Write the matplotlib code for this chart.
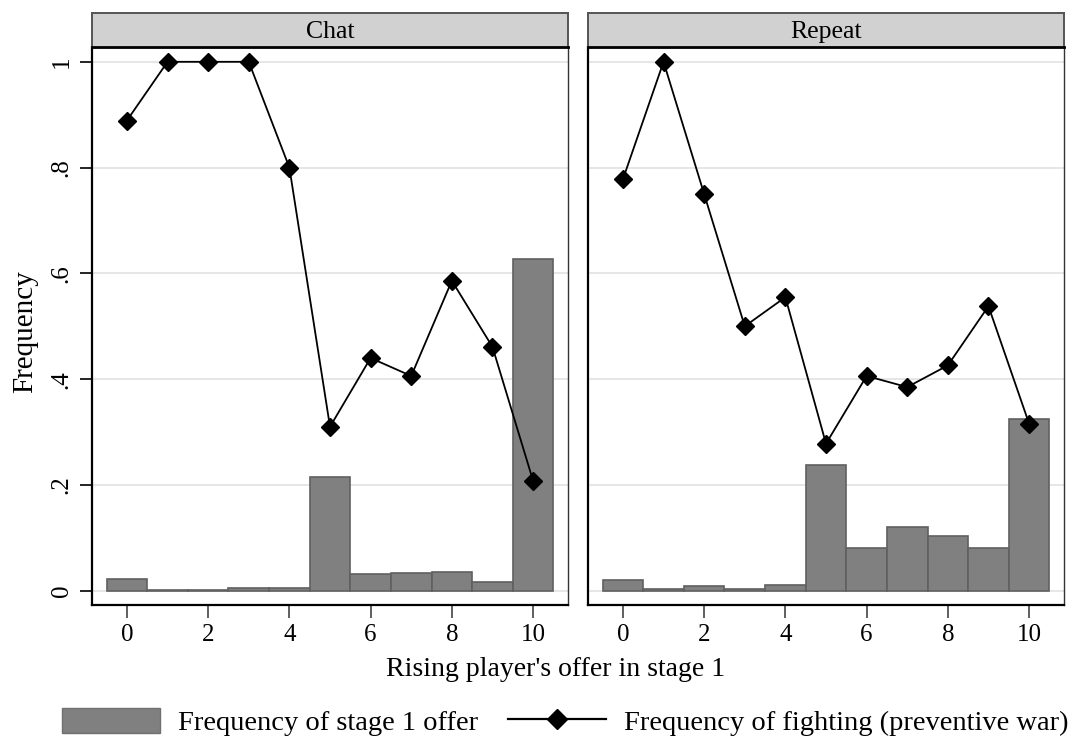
import numpy as np
import matplotlib.pyplot as plt
from matplotlib.patches import Rectangle
from matplotlib.lines import Line2D

plt.rcParams['font.family'] = ['Liberation Serif', 'DejaVu Serif']

offers = np.arange(11)
panels = ["Chat", "Repeat"]

# frequency of each stage 1 offer
chat_offer = [0.022, 0.001, 0.001, 0.006, 0.006, 0.215, 0.032, 0.034, 0.036, 0.016, 0.628]
repeat_offer = [0.021, 0.004, 0.009, 0.004, 0.010, 0.238, 0.080, 0.120, 0.103, 0.080, 0.324]

# frequency of fighting given the offer
chat_fight = [0.889, 1.0, 1.0, 1.0, 0.8, 0.31, 0.44, 0.406, 0.586, 0.461, 0.208]
repeat_fight = [0.778, 1.0, 0.75, 0.5, 0.555, 0.278, 0.406, 0.385, 0.426, 0.538, 0.316]

yticks = [0, 0.2, 0.4, 0.6, 0.8, 1.0]
ytick_labels = ["0", ".2", ".4", ".6", ".8", "1"]

W, H = 1073, 742
fig = plt.figure(figsize=(W / 100, H / 100), dpi=100)

boxes = [(92, 568), (588, 1064)]
top, bottom = 47, 605
strip_top = 13

data = [(chat_offer, chat_fight), (repeat_offer, repeat_fight)]

for i, (name, (x0, x1), (bars, fight)) in enumerate(zip(panels, boxes, data)):
    ax = fig.add_axes([x0 / W, 1 - bottom / H, (x1 - x0) / W, (bottom - top) / H])
    ax.bar(offers, bars, width=1.0, color="#808080", edgecolor="#606060", linewidth=1.2, zorder=2)
    ax.plot(offers, fight, color="black", linewidth=1.3, marker="D", markersize=9,
            markerfacecolor="black", markeredgecolor="black", zorder=3)
    ax.set_xlim(-0.86, 10.86)
    ax.set_ylim(-0.027, 1.028)
    ax.set_xticks([0, 2, 4, 6, 8, 10])
    ax.set_yticks(yticks)
    ax.grid(axis="y", color="#e6e6e6", linewidth=1.4, zorder=0)
    ax.set_axisbelow(True)
    ax.tick_params(axis="x", labelsize=18, length=9, width=1.2, color="#444444", pad=5)
    if i == 0:
        ax.set_yticklabels(ytick_labels, rotation=90, va="center")
        ax.tick_params(axis="y", labelsize=18, length=9, width=1.2, pad=5)
    else:
        ax.tick_params(axis="y", left=False, labelleft=False)
    for s in ["left", "bottom"]:
        ax.spines[s].set_linewidth(1.6)
        ax.spines[s].set_color("black")
    for s in ["right", "top"]:
        ax.spines[s].set_linewidth(1.0)
        ax.spines[s].set_color("#333333")

    # panel strip
    sax = fig.add_axes([x0 / W, 1 - top / H, (x1 - x0) / W, (top - strip_top) / H])
    sax.set_facecolor("#d1d1d1")
    sax.set_xticks([])
    sax.set_yticks([])
    for s in sax.spines.values():
        s.set_color("#555555")
        s.set_linewidth(1.4)
    sax.spines["bottom"].set_color("black")
    sax.spines["bottom"].set_linewidth(2)
    sax.text(0.5, 0.45, name, ha="center", va="center", fontsize=18.5, transform=sax.transAxes)

fig.text(556 / W, 1 - 670 / H, "Rising player's offer in stage 1", ha="center", va="center", fontsize=20)
fig.text(25 / W, 1 - 332 / H, "Frequency", ha="center", va="center", rotation=90, fontsize=21)

handles = [Rectangle((0, 0), 1, 1, facecolor="#808080", edgecolor="#707070"),
           Line2D([], [], color="black", linewidth=1.6, marker="D", markersize=10)]
fig.legend(handles, ["Frequency of stage 1 offer", "Frequency of fighting (preventive war)"],
           loc="center", bbox_to_anchor=(565 / W, 1 - 722 / H), ncol=2, frameon=False,
           fontsize=20.5, handlelength=3.44, handleheight=1.0, columnspacing=1.05, handletextpad=0.63)

fig.savefig("out.png", dpi=100)
